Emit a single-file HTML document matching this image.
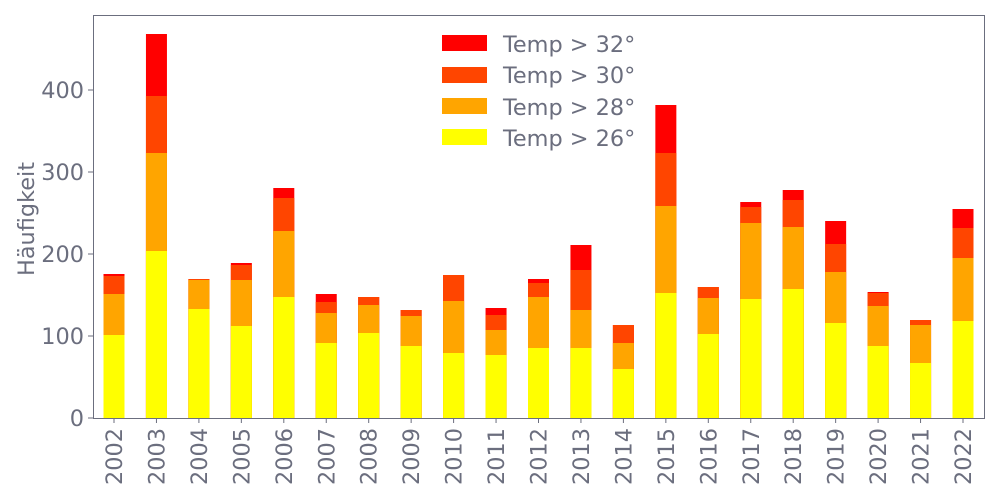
<!DOCTYPE html>
<html><head><meta charset="utf-8"><style>body{margin:0;background:#fff}svg{display:block}text{font-family:"DejaVu Sans","Liberation Sans",sans-serif;fill:#6b6e7e}</style></head>
<body>
<svg width="1000" height="500" xmlns="http://www.w3.org/2000/svg">
<g fill="#ff0000">
<rect x="103.5" y="274" width="21" height="144"/><rect x="145.95" y="34" width="21" height="384"/><rect x="188.4" y="279" width="21" height="139"/><rect x="230.85" y="263" width="21" height="155"/><rect x="273.3" y="188" width="21" height="230"/><rect x="315.75" y="294" width="21" height="124"/><rect x="358.2" y="297" width="21" height="121"/><rect x="400.65" y="310" width="21" height="108"/><rect x="443.1" y="275" width="21" height="143"/><rect x="485.55" y="308" width="21" height="110"/><rect x="528" y="279" width="21" height="139"/><rect x="570.45" y="245" width="21" height="173"/><rect x="612.9" y="325" width="21" height="93"/><rect x="655.35" y="105" width="21" height="313"/><rect x="697.8" y="287" width="21" height="131"/><rect x="740.25" y="202" width="21" height="216"/><rect x="782.7" y="190" width="21" height="228"/><rect x="825.15" y="221" width="21" height="197"/><rect x="867.6" y="292" width="21" height="126"/><rect x="910.05" y="320" width="21" height="98"/><rect x="952.5" y="209" width="21" height="209"/>
</g>
<g fill="#ff4500">
<rect x="103.5" y="276" width="21" height="142"/><rect x="145.95" y="96" width="21" height="322"/><rect x="188.4" y="279" width="21" height="139"/><rect x="230.85" y="265" width="21" height="153"/><rect x="273.3" y="198" width="21" height="220"/><rect x="315.75" y="302" width="21" height="116"/><rect x="358.2" y="297" width="21" height="121"/><rect x="400.65" y="310" width="21" height="108"/><rect x="443.1" y="275" width="21" height="143"/><rect x="485.55" y="315" width="21" height="103"/><rect x="528" y="283" width="21" height="135"/><rect x="570.45" y="270" width="21" height="148"/><rect x="612.9" y="325" width="21" height="93"/><rect x="655.35" y="153" width="21" height="265"/><rect x="697.8" y="287" width="21" height="131"/><rect x="740.25" y="207" width="21" height="211"/><rect x="782.7" y="200" width="21" height="218"/><rect x="825.15" y="244" width="21" height="174"/><rect x="867.6" y="293" width="21" height="125"/><rect x="910.05" y="320" width="21" height="98"/><rect x="952.5" y="228" width="21" height="190"/>
</g>
<g fill="#ffa500">
<rect x="103.5" y="294" width="21" height="124"/><rect x="145.95" y="153" width="21" height="265"/><rect x="188.4" y="280" width="21" height="138"/><rect x="230.85" y="280" width="21" height="138"/><rect x="273.3" y="231" width="21" height="187"/><rect x="315.75" y="313" width="21" height="105"/><rect x="358.2" y="305" width="21" height="113"/><rect x="400.65" y="316" width="21" height="102"/><rect x="443.1" y="301" width="21" height="117"/><rect x="485.55" y="330" width="21" height="88"/><rect x="528" y="297" width="21" height="121"/><rect x="570.45" y="310" width="21" height="108"/><rect x="612.9" y="343" width="21" height="75"/><rect x="655.35" y="206" width="21" height="212"/><rect x="697.8" y="298" width="21" height="120"/><rect x="740.25" y="223" width="21" height="195"/><rect x="782.7" y="227" width="21" height="191"/><rect x="825.15" y="272" width="21" height="146"/><rect x="867.6" y="306" width="21" height="112"/><rect x="910.05" y="325" width="21" height="93"/><rect x="952.5" y="258" width="21" height="160"/>
</g>
<g fill="#ffff00">
<rect x="103.5" y="335" width="21" height="83"/><rect x="145.95" y="251" width="21" height="167"/><rect x="188.4" y="309" width="21" height="109"/><rect x="230.85" y="326" width="21" height="92"/><rect x="273.3" y="297" width="21" height="121"/><rect x="315.75" y="343" width="21" height="75"/><rect x="358.2" y="333" width="21" height="85"/><rect x="400.65" y="346" width="21" height="72"/><rect x="443.1" y="353" width="21" height="65"/><rect x="485.55" y="355" width="21" height="63"/><rect x="528" y="348" width="21" height="70"/><rect x="570.45" y="348" width="21" height="70"/><rect x="612.9" y="369" width="21" height="49"/><rect x="655.35" y="293" width="21" height="125"/><rect x="697.8" y="334" width="21" height="84"/><rect x="740.25" y="299" width="21" height="119"/><rect x="782.7" y="289" width="21" height="129"/><rect x="825.15" y="323" width="21" height="95"/><rect x="867.6" y="346" width="21" height="72"/><rect x="910.05" y="363" width="21" height="55"/><rect x="952.5" y="321" width="21" height="97"/>
</g>
<rect x="93.5" y="15.5" width="891" height="403" fill="none" stroke="#6b6e7e" stroke-width="1"/>
<g stroke="#6b6e7e">
<line x1="88" y1="418" x2="93" y2="418"/><line x1="88" y1="336" x2="93" y2="336"/><line x1="88" y1="254" x2="93" y2="254"/><line x1="88" y1="172" x2="93" y2="172"/><line x1="88" y1="90" x2="93" y2="90"/>
<line x1="114" y1="418" x2="114" y2="423"/><line x1="156.45" y1="418" x2="156.45" y2="423"/><line x1="198.9" y1="418" x2="198.9" y2="423"/><line x1="241.35" y1="418" x2="241.35" y2="423"/><line x1="283.8" y1="418" x2="283.8" y2="423"/><line x1="326.25" y1="418" x2="326.25" y2="423"/><line x1="368.7" y1="418" x2="368.7" y2="423"/><line x1="411.15" y1="418" x2="411.15" y2="423"/><line x1="453.6" y1="418" x2="453.6" y2="423"/><line x1="496.05" y1="418" x2="496.05" y2="423"/><line x1="538.5" y1="418" x2="538.5" y2="423"/><line x1="580.95" y1="418" x2="580.95" y2="423"/><line x1="623.4" y1="418" x2="623.4" y2="423"/><line x1="665.85" y1="418" x2="665.85" y2="423"/><line x1="708.3" y1="418" x2="708.3" y2="423"/><line x1="750.75" y1="418" x2="750.75" y2="423"/><line x1="793.2" y1="418" x2="793.2" y2="423"/><line x1="835.65" y1="418" x2="835.65" y2="423"/><line x1="878.1" y1="418" x2="878.1" y2="423"/><line x1="920.55" y1="418" x2="920.55" y2="423"/><line x1="963" y1="418" x2="963" y2="423"/>
</g>
<g font-size="22.4" text-anchor="end">
<text x="84" y="426">0</text><text x="84" y="344">100</text><text x="84" y="262">200</text><text x="84" y="180">300</text><text x="84" y="98">400</text>
</g>
<text transform="translate(34,219) rotate(-90)" font-size="22.4" text-anchor="middle">Häufigkeit</text>
<g font-size="22.4" text-anchor="end">
<text transform="translate(122,428) rotate(-90)">2002</text><text transform="translate(164.45,428) rotate(-90)">2003</text><text transform="translate(206.9,428) rotate(-90)">2004</text><text transform="translate(249.35,428) rotate(-90)">2005</text><text transform="translate(291.8,428) rotate(-90)">2006</text><text transform="translate(334.25,428) rotate(-90)">2007</text><text transform="translate(376.7,428) rotate(-90)">2008</text><text transform="translate(419.15,428) rotate(-90)">2009</text><text transform="translate(461.6,428) rotate(-90)">2010</text><text transform="translate(504.05,428) rotate(-90)">2011</text><text transform="translate(546.5,428) rotate(-90)">2012</text><text transform="translate(588.95,428) rotate(-90)">2013</text><text transform="translate(631.4,428) rotate(-90)">2014</text><text transform="translate(673.85,428) rotate(-90)">2015</text><text transform="translate(716.3,428) rotate(-90)">2016</text><text transform="translate(758.75,428) rotate(-90)">2017</text><text transform="translate(801.2,428) rotate(-90)">2018</text><text transform="translate(843.65,428) rotate(-90)">2019</text><text transform="translate(886.1,428) rotate(-90)">2020</text><text transform="translate(928.55,428) rotate(-90)">2021</text><text transform="translate(971,428) rotate(-90)">2022</text>
</g>
<g font-size="22.4">
<rect x="442" y="35" width="45" height="16" fill="#ff0000"/><text x="503" y="52">Temp &gt; 32°</text>
<rect x="442" y="67" width="45" height="16" fill="#ff4500"/><text x="503" y="83">Temp &gt; 30°</text>
<rect x="442" y="98" width="45" height="16" fill="#ffa500"/><text x="503" y="115">Temp &gt; 28°</text>
<rect x="442" y="129" width="45" height="16" fill="#ffff00"/><text x="503" y="146">Temp &gt; 26°</text>
</g>
</svg>
</body></html>
